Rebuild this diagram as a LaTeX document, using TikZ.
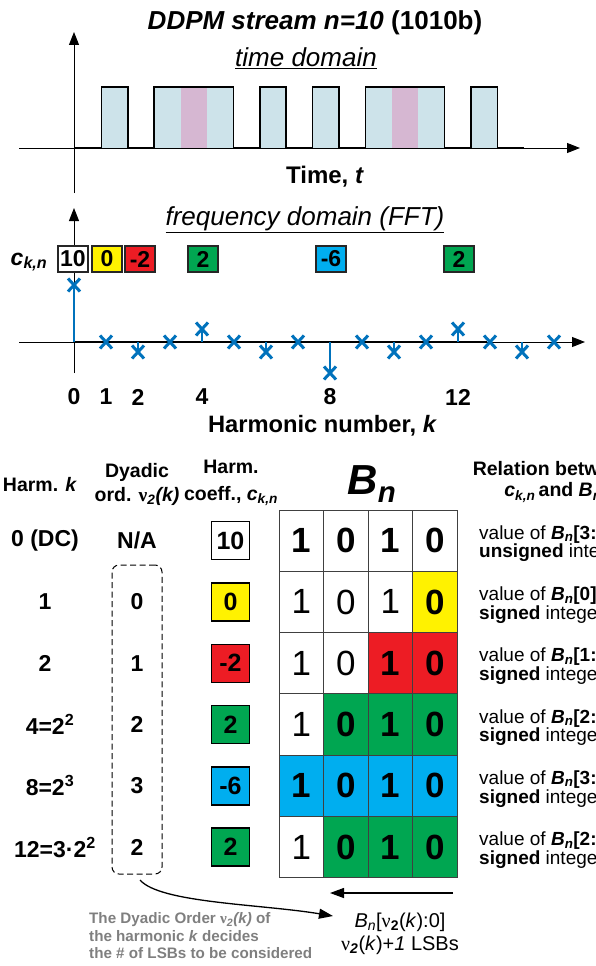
\documentclass[tikz,border=0pt]{standalone}
\usepackage{fontspec}
\setmainfont{Liberation Sans}
\newfontfamily\grk{Liberation Serif}
\usetikzlibrary{arrows.meta,shapes.misc}
\definecolor{pblue}{HTML}{CDE3EA}
\definecolor{ppink}{HTML}{D6B7D2}
\definecolor{myyellow}{HTML}{FFF200}
\definecolor{myred}{HTML}{ED1C24}
\definecolor{mygreen}{HTML}{00A651}
\definecolor{mycyan}{HTML}{00AEEF}
\definecolor{stemblue}{HTML}{0072BC}
\definecolor{greytext}{HTML}{7F7F7F}
\newcommand\fsz[1]{\fontsize{#1}{#1}\selectfont}
\newcommand\nuu{{\grk ν}}
\begin{document}
\begin{tikzpicture}[x=1pt,y=-1pt,
  axis/.style={line width=1pt,-{Triangle[length=13pt,width=10pt]}},
  sig/.style={line width=1.6pt,line join=miter},
  cbox/.style={draw=black!85,line width=1.4pt,minimum width=30pt,minimum height=26pt,inner sep=0pt,font=\fsz{23}\bfseries},
  tbox/.style={draw=black,line width=1.5pt,minimum size=38pt,inner sep=0pt,font=\fsz{25}\bfseries},
  xm/.style={cross out,draw=stemblue,line width=3pt,minimum width=9pt,minimum height=10pt,inner sep=0pt},
  stem/.style={draw=stemblue,line width=2.4pt},
  lbl/.style={font=\fsz{23}\bfseries},
  tick/.style={font=\fsz{23}\bfseries},
  hdr/.style={font=\fontsize{19.5}{24}\selectfont\bfseries,align=center},
  cell/.style={minimum width=44.5pt,minimum height=61.3pt,inner sep=0pt,draw=black!75,line width=1pt},
  rtxt/.style={anchor=west,align=left,inner sep=0pt,font=\fontsize{19}{17}\selectfont},
  arr/.style={line width=1.3pt,-{Triangle[length=14pt,width=10pt]}}
]
\useasboundingbox (0,0) rectangle (596,966);

% ---------- time domain ----------
\node[font=\fsz{26}\bfseries] (title) at (315,23) {\textit{DDPM stream n=10} (1010b)};
\node[font=\fsz{26}\itshape] (td) at (306,58) {\underline{time domain}};

\fill[pblue] (101.4,87) rectangle (127.8,148);
\fill[pblue] (154.2,87) rectangle (233.4,148);
\fill[ppink] (180.6,87) rectangle (207,148);
\fill[pblue] (259.8,87) rectangle (286.2,148);
\fill[pblue] (312.6,87) rectangle (339,148);
\fill[pblue] (365.4,87) rectangle (444.6,148);
\fill[ppink] (391.8,87) rectangle (418.2,148);
\fill[pblue] (471,87) rectangle (497.4,148);

\coordinate (tyb) at (74,193);
\coordinate (tyt) at (74,32);
\coordinate (txl) at (19,148);
\coordinate (txr) at (580,148);
\draw[axis] (tyb) -- (tyt);
\draw[axis] (txl) -- (txr);
\draw[sig] (74,148) -- (101.4,148) -- (101.4,87) -- (127.8,87) -- (127.8,148)
  -- (154.2,148) -- (154.2,87) -- (233.4,87) -- (233.4,148)
  -- (259.8,148) -- (259.8,87) -- (286.2,87) -- (286.2,148)
  -- (312.6,148) -- (312.6,87) -- (339,87) -- (339,148)
  -- (365.4,148) -- (365.4,87) -- (444.6,87) -- (444.6,148)
  -- (471,148) -- (471,87) -- (497.4,87) -- (497.4,148) -- (523.8,148);
\node[font=\fsz{24}\bfseries] (tlab) at (325,177) {Time, \textit{t}};

% ---------- frequency domain ----------
\node[font=\fsz{26}\itshape] (fd) at (305,220) {\underline{frequency domain (FFT)}};
\coordinate (fyb) at (74,373);
\coordinate (fyt) at (74,208);
\coordinate (fxl) at (19,342);
\coordinate (fxr) at (585,342);
\draw[axis] (fyb) -- (fyt);
\draw[axis] (fxl) -- (fxr);
\coordinate (fx0) at (74,342);
\coordinate (fx15) at (487,342);
\draw[line width=2.2pt] (fx0) -- (fx15);

\node[font=\fsz{23}\bfseries\itshape] (ck) at (29,262) {c\textsubscript{k,n}};
\node[cbox,fill=white] (b0) at (73,259) {10};
\node[cbox,fill=myyellow] (b1) at (107,259) {0};
\node[cbox,fill=myred] (b2) at (140,259) {-2};
\node[cbox,fill=mygreen] (b4) at (203,259) {2};
\node[cbox,fill=mycyan] (b8) at (331,259) {-6};
\node[cbox,fill=mygreen] (b12) at (459,259) {2};

\foreach \k/\v in {0/285,1/342,2/352,3/342,4/329,5/342,6/352,7/342,8/373,9/342,10/352,11/342,12/329,13/342,14/352,15/342}{
  \coordinate (ax\k) at ({74+32*\k},342);
  \node[xm] (m\k) at ({74+32*\k},\v) {};
  \draw[stem] (ax\k) -- (m\k.center);
}
\foreach \k in {0,1,2,4,8,12}{
  \node[tick] (t\k) at ({74+32*\k},397) {\k};
}
\node[font=\fsz{23.7}\bfseries] (hn) at (322.5,426) {Harmonic number, \textit{k}};

% ---------- table headers ----------
\node[hdr] (h1) at (40,485) {Harm. \textit{k}};
\node[hdr] (h2) at (137,484) {Dyadic\\ord. \nuu\textsubscript{\textit{2}}\textit{(k)}};
\node[hdr,font=\fontsize{19.5}{27}\selectfont\bfseries] (h3) at (231,483) {Harm.\\coeff., \textit{c}\textsubscript{\textit{k,n}}};
\node[font=\fsz{42}\bfseries\itshape] (hB) at (372,484) {B\textsubscript{n}};
\node[hdr,font=\fontsize{19.5}{21}\selectfont\bfseries] (h5) at (553,482) {Relation between\\\textit{c}\textsubscript{\textit{k,n}}\,and \textit{B}\textsubscript{\textit{n}}};

% ---------- rows ----------
\foreach \r/\lab/\lx/\nu/\cv/\cf in {
  1/{0 (DC)}/45/{N/A}/10/white,
  2/1/45/0/0/myyellow,
  3/2/45/1/-2/myred,
  4/{4=2\textsuperscript{2}}/50/2/2/mygreen,
  5/{8=2\textsuperscript{3}}/50/3/-6/mycyan,
  6/{12=3·2\textsuperscript{2}}/55/2/2/mygreen}{
  \node[lbl] (k\r) at (\lx,{510+61.3*(\r-0.5)}) {\lab};
  \node[lbl] (v\r) at (137,{510+61.3*(\r-0.5)}) {\nu};
  \node[tbox,fill=\cf] (cb\r) at (230.5,{510+61.3*(\r-0.5)}) {\cv};
}

% ---------- B_n table ----------
\foreach \r/\c/\d/\f/\b in {
  1/1/1/white/1, 1/2/0/white/1, 1/3/1/white/1, 1/4/0/white/1,
  2/1/1/white/0, 2/2/0/white/0, 2/3/1/white/0, 2/4/0/myyellow/1,
  3/1/1/white/0, 3/2/0/white/0, 3/3/1/myred/1, 3/4/0/myred/1,
  4/1/1/white/0, 4/2/0/mygreen/1, 4/3/1/mygreen/1, 4/4/0/mygreen/1,
  5/1/1/mycyan/1, 5/2/0/mycyan/1, 5/3/1/mycyan/1, 5/4/0/mycyan/1,
  6/1/1/white/0, 6/2/0/mygreen/1, 6/3/1/mygreen/1, 6/4/0/mygreen/1}{
  \node[cell,fill=\f] (r\r c\c) at ({279+44.5*(\c-0.5)},{510+61.3*(\r-0.5)}) {\fsz{35}\ifnum\b=1 \bfseries\fi\d};
}

% ---------- relation texts ----------
\foreach \r/\rng/\sg in {1/{3:0}/unsigned,2/{0}/signed,3/{1:0}/signed,4/{2:0}/signed,5/{3:0}/signed,6/{2:0}/signed}{
  \node[rtxt] (rel\r) at (479,{510+61.3*(\r-0.5)+3}) {value of \textbf{\textit{B}\textsubscript{\textit{n}}[\rng]} as\\\textbf{\sg} integer};
}

% ---------- dashed box and arrows ----------
\node[draw,dashed,dash pattern=on 6pt off 3.5pt,line width=1pt,rounded corners=7pt,minimum width=50pt,minimum height=309pt,inner sep=0pt] (dbox) at (137,719.5) {};
\coordinate (cs) at (140,880);
\coordinate (ce) at (333,916);
\draw[arr] (cs) .. controls (160,903) and (260,904) .. (ce);
\coordinate (hs) at (453,893);
\coordinate (he) at (330,893);
\draw[arr] (hs) -- (he);

\node[font=\fsz{20}] (lsb1) at (400,922) {\textit{B}\textsubscript{\textit{n}}[\nuu\textsubscript{\textbf{2}}(\textit{k}):0]};
\node[font=\fsz{20}] (lsb2) at (400,945) {\nuu\textsubscript{\textbf{\textit{2}}}(\textit{k})+\textit{1} LSBs};

\node[anchor=west,align=left,inner sep=0pt,text=greytext,font=\fontsize{15.2}{17.5}\selectfont\bfseries] (note) at (89,936) {The Dyadic Order \nuu\textsubscript{\textit{2}}\textit{(k)} of\\the harmonic \textit{k} decides\\the \# of LSBs to be considered};
\end{tikzpicture}
\end{document}
